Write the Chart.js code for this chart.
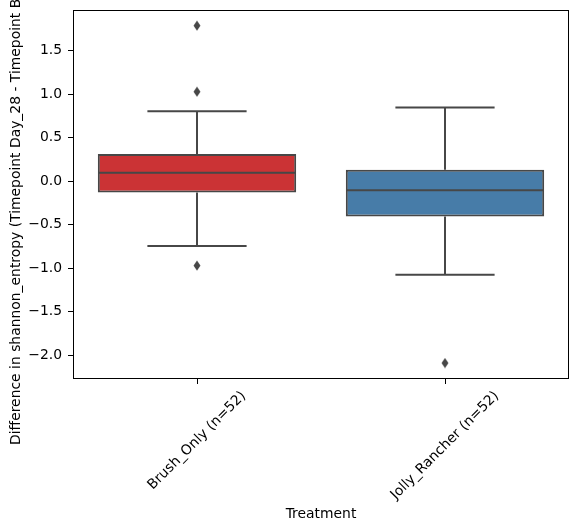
<!DOCTYPE html>
<html>
<head>
<meta charset="utf-8">
<script src="https://cdn.jsdelivr.net/npm/chart.js@4.4.1/dist/chart.umd.min.js"></script>
<style>
  html, body { margin: 0; padding: 0; background: #fff; }
  #wrap { position: relative; width: 579px; height: 532px; }
</style>
</head>
<body>
<div id="wrap"><canvas id="boxChart"></canvas></div>
<script>
// box plot data
const categories = ["Brush_Only (n=52)", "Jolly_Rancher (n=52)"];
const q1 = [-0.13, -0.405];
const q3 = [0.315, 0.133];
const medians = [0.098, -0.102];
const whiskerLow = [-0.745, -1.075];
const whiskerHigh = [0.805, 0.85];
const outliers = [[1.79, 1.03, -0.97], [-2.09]];
const yTicks = [-2.0, -1.5, -1.0, -0.5, 0.0, 0.5, 1.0, 1.5];
const yMin = -2.274;
const yMax = 1.97;

const boxColors = ["#cb3335", "#477ca8"];
const lineGray = "#474747";
const yTitle = "Difference in shannon_entropy (Timepoint Day_28 - Timepoint Baseline)";
const fontFamily = "'DejaVu Sans', sans-serif";
const fontSize = 13.9;

Chart.defaults.font.family = fontFamily;
Chart.defaults.font.size = fontSize;
Chart.defaults.color = "#000";

// thin diamond marker like matplotlib 'd'
function thinDiamond() {
  const c = document.createElement("canvas");
  c.width = 8; c.height = 11;
  const g = c.getContext("2d");
  g.fillStyle = lineGray;
  g.beginPath();
  g.moveTo(4, 0.5); g.lineTo(7.5, 5.5); g.lineTo(4, 10.5); g.lineTo(0.5, 5.5);
  g.closePath();
  g.fill();
  return c;
}

const outlierPoints = [];
outliers.forEach((vals, i) => {
  vals.forEach(v => outlierPoints.push({ x: categories[i], y: v }));
});

const fmt = v => v.toFixed(1).replace("-", "\u2212");

// whiskers, medians, frame and centred rotated labels
const boxLines = {
  id: "boxLines",
  afterDatasetsDraw(chart) {
    const ctx = chart.ctx;
    const x = chart.scales.x, y = chart.scales.y;
    const meta = chart.getDatasetMeta(0);
    ctx.save();
    ctx.strokeStyle = lineGray;
    ctx.lineWidth = 2;
    categories.forEach((c, i) => {
      const cx = x.getPixelForValue(i);
      const half = meta.data[i].width / 2;
      const cap = half / 2;
      const yLo = y.getPixelForValue(whiskerLow[i]);
      const yHi = y.getPixelForValue(whiskerHigh[i]);
      const yQ1 = y.getPixelForValue(q1[i]);
      const yQ3 = y.getPixelForValue(q3[i]);
      const yMed = y.getPixelForValue(medians[i]);
      ctx.beginPath();
      ctx.moveTo(cx, yQ3); ctx.lineTo(cx, yHi);
      ctx.moveTo(cx - cap, yHi); ctx.lineTo(cx + cap, yHi);
      ctx.moveTo(cx, yQ1); ctx.lineTo(cx, yLo);
      ctx.moveTo(cx - cap, yLo); ctx.lineTo(cx + cap, yLo);
      ctx.moveTo(cx - half + 1, yMed); ctx.lineTo(cx + half - 1, yMed);
      ctx.stroke();
    });
    const a = chart.chartArea;
    ctx.strokeStyle = "#000";
    ctx.lineWidth = 1;
    ctx.strokeRect(a.left + 0.5, a.top + 0.5, a.right - a.left - 1, a.bottom - a.top - 1);
    ctx.restore();
  },
  afterDraw(chart) {
    const ctx = chart.ctx;
    const a = chart.chartArea;
    const x = chart.scales.x;
    ctx.save();
    ctx.fillStyle = "#000";
    ctx.font = fontSize + "px " + fontFamily;
    ctx.textAlign = "center";
    ctx.textBaseline = "middle";
    const r = Math.SQRT1_2;
    categories.forEach((c, i) => {
      const w = ctx.measureText(c).width;
      const ext = (w + fontSize) * r;
      ctx.save();
      ctx.translate(x.getPixelForValue(i), a.bottom + 10 + ext / 2);
      ctx.rotate(-Math.PI / 4);
      ctx.fillText(c, 0, 0);
      ctx.restore();
    });
    ctx.save();
    ctx.translate(16, (a.top + a.bottom) / 2);
    ctx.rotate(-Math.PI / 2);
    ctx.fillText(yTitle, 0, 0);
    ctx.restore();
    ctx.restore();
  }
};

new Chart(document.getElementById("boxChart"), {
  type: "bar",
  data: {
    labels: categories,
    datasets: [
      {
        type: "bar",
        data: categories.map((c, i) => [q1[i], q3[i]]),
        backgroundColor: boxColors,
        borderColor: lineGray,
        borderWidth: 2,
        borderSkipped: false,
        categoryPercentage: 0.8,
        barPercentage: 1.0
      },
      {
        type: "line",
        data: outlierPoints,
        showLine: false,
        pointStyle: thinDiamond(),
        pointRadius: 5,
        pointHoverRadius: 5
      }
    ]
  },
  options: {
    responsive: true,
    maintainAspectRatio: false,
    animation: false,
    layout: { padding: { top: 10, right: 10, bottom: 0, left: 0 } },
    plugins: {
      legend: { display: false },
      tooltip: { enabled: false }
    },
    scales: {
      x: {
        offset: true,
        grid: { display: true, offset: false, drawOnChartArea: false, drawTicks: true, tickLength: 5, color: "#000" },
        border: { display: false },
        ticks: { display: false },
        title: { display: true, text: "Treatment", color: "#000", padding: { top: 0, bottom: 9.7 } },
        afterFit(scale) {
          scale.height = 153;
          scale.paddingLeft = 0;
          scale.paddingRight = 0;
        }
      },
      y: {
        min: yMin,
        max: yMax,
        grid: { display: true, drawOnChartArea: false, drawTicks: true, tickLength: 5, color: "#000" },
        border: { display: false },
        ticks: { padding: 6, color: "#000", callback: v => fmt(v) },
        afterBuildTicks(scale) {
          scale.ticks = yTicks.map(v => ({ value: v }));
        },
        afterFit(scale) {
          scale.width = 73;
          scale.paddingTop = 0;
          scale.paddingBottom = 0;
        }
      }
    }
  },
  plugins: [boxLines]
});
</script>
</body>
</html>
